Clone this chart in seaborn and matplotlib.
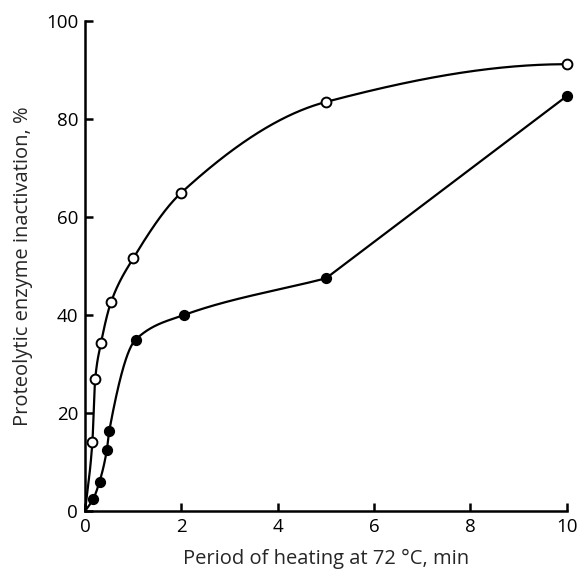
import numpy as np
import pandas as pd
import matplotlib
matplotlib.use("Agg")
import matplotlib.pyplot as plt
import seaborn as sns

# Data
open_x = [0.15, 0.21, 0.33, 0.54, 1.0, 2.0, 5.0, 10.0]
open_y = [14.0, 27.0, 34.3, 42.7, 51.6, 65.0, 83.5, 91.2]
filled_x = [0.17, 0.30, 0.45, 0.50, 1.05, 2.05, 5.0, 10.0]
filled_y = [2.5, 6.0, 12.4, 16.3, 35.0, 40.0, 47.5, 84.7]
x_ticks = [0, 2, 4, 6, 8, 10]
y_ticks = [0, 20, 40, 60, 80, 100]
x_label = "Period of heating at 72 °C, min"
y_label = "Proteolytic enzyme inactivation, %"


def pchip(x, y, xn, end="three"):
    x = np.asarray(x, float); y = np.asarray(y, float)
    h = np.diff(x); d = np.diff(y) / h
    n = len(x); m = np.zeros(n)
    for k in range(1, n - 1):
        if d[k - 1] * d[k] > 0:
            w1 = 2 * h[k] + h[k - 1]; w2 = h[k] + 2 * h[k - 1]
            m[k] = (w1 + w2) / (w1 / d[k - 1] + w2 / d[k])
    m[0] = d[0]
    if end == "three":
        me = ((2 * h[-1] + h[-2]) * d[-1] - h[-1] * d[-2]) / (h[-1] + h[-2])
        m[-1] = max(me, 0.0)
    else:
        m[-1] = d[-1]
    idx = np.clip(np.searchsorted(x, xn) - 1, 0, n - 2)
    t = (xn - x[idx]) / h[idx]
    h00 = 2 * t**3 - 3 * t**2 + 1; h10 = t**3 - 2 * t**2 + t
    h01 = -2 * t**3 + 3 * t**2; h11 = t**3 - t**2
    return h00 * y[idx] + h10 * h[idx] * m[idx] + h01 * y[idx + 1] + h11 * h[idx] * m[idx + 1]


sns.set_style("ticks")
plt.rcParams["font.family"] = ["Open Sans", "DejaVu Sans"]

fig = plt.figure(figsize=(5.79, 5.70), dpi=100)
ax = fig.add_axes([0.147, 0.1035, 0.832, 0.8595])

# open series: smooth curve from origin through all points
px = [0.0] + open_x; py = [0.0] + open_y
xn = np.unique(np.concatenate([np.linspace(0, 10, 1000), px]))
open_curve = pd.DataFrame({"x": xn, "y": pchip(px, py, xn, end="three"), "s": "open"})

# filled series: smooth up to x=5, then straight segment to the last point
px = [0.0] + filled_x[:-1]; py = [0.0] + filled_y[:-1]
xn = np.unique(np.concatenate([np.linspace(0, px[-1], 800), px]))
fx = np.concatenate([xn, [filled_x[-1]]])
fy = np.concatenate([pchip(px, py, xn, end="secant"), [filled_y[-1]]])
filled_curve = pd.DataFrame({"x": fx, "y": fy, "s": "filled"})

line_df = pd.concat([open_curve, filled_curve])

sns.lineplot(data=line_df, x="x", y="y", units="s", estimator=None, sort=False,
             color="black", lw=1.6, ax=ax, clip_on=False)

pts_open = pd.DataFrame({"x": open_x, "y": open_y})
pts_filled = pd.DataFrame({"x": filled_x, "y": filled_y})
sns.scatterplot(data=pts_open, x="x", y="y", marker="o", s=50, facecolor="white",
                edgecolor="black", linewidth=1.4, ax=ax, clip_on=False, zorder=5)
sns.scatterplot(data=pts_filled, x="x", y="y", marker="o", s=50, color="black",
                edgecolor="black", linewidth=1.0, ax=ax, clip_on=False, zorder=5)

ax.set_xlim(0, 10)
ax.set_ylim(0, 100)
ax.set_xticks(x_ticks)
ax.set_yticks(y_ticks)
ax.set_xticklabels([str(v) for v in x_ticks])
ax.set_yticklabels([str(v) for v in y_ticks])
sns.despine(ax=ax)
for sp in ["left", "bottom"]:
    ax.spines[sp].set_linewidth(1.8)
    ax.spines[sp].set_color("black")
ax.tick_params(direction="in", length=6, width=1.8, labelsize=13.5, colors="black", pad=5)
ax.set_xlabel(x_label, fontsize=14.5, labelpad=9)
ax.set_ylabel(y_label, fontsize=14.5, labelpad=9)

fig.savefig("out.png", dpi=100)
